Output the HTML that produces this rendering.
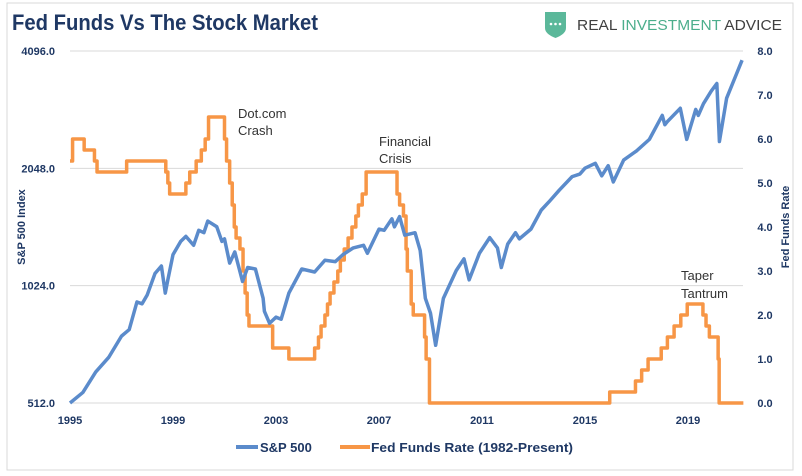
<!DOCTYPE html>
<html><head><meta charset="utf-8"><style>
html,body{margin:0;padding:0;background:#fff;}
svg{display:block;font-family:"Liberation Sans",sans-serif;}
</style></head><body>
<svg id="chart" width="802" height="476" viewBox="0 0 802 476">
<rect x="7" y="3" width="786" height="467" fill="#fff" stroke="#d9d9d9" stroke-width="1"/>
<text x="12" y="30" font-size="22" font-weight="bold" fill="#1F3864" textLength="306" lengthAdjust="spacingAndGlyphs">Fed Funds Vs The Stock Market</text>
<g>
<path d="M545 12 L566 12 L566 28 Q566 34 555.5 38 Q545 34 545 28 Z" fill="#5bb89a"/>
<circle cx="551" cy="24" r="1.3" fill="#fff"/><circle cx="555.5" cy="24" r="1.3" fill="#fff"/><circle cx="560" cy="24" r="1.3" fill="#fff"/>
<text x="577" y="30" font-size="15" textLength="205" lengthAdjust="spacingAndGlyphs"><tspan fill="#404040">REAL </tspan><tspan fill="#4cae8c">INVESTMENT </tspan><tspan fill="#404040">ADVICE</tspan></text>
</g>
<g id="grid"></g><g id="axes"></g><g id="series"></g>
<text x="238" y="118" font-size="13" fill="#333">Dot.com</text>
<text x="238" y="135" font-size="13" fill="#333">Crash</text>
<text x="379" y="146" font-size="13" fill="#333">Financial</text>
<text x="379" y="163" font-size="13" fill="#333">Crisis</text>
<text x="681" y="280" font-size="13" fill="#333">Taper</text>
<text x="681" y="298" font-size="13" fill="#333">Tantrum</text>
<text transform="translate(25,227) rotate(-90)" text-anchor="middle" font-size="11" font-weight="bold" fill="#1F3864">S&amp;P 500 Index</text>
<text transform="translate(789,227) rotate(-90)" text-anchor="middle" font-size="11" font-weight="bold" fill="#1F3864">Fed Funds Rate</text>
<g>
<line x1="236" y1="447" x2="258" y2="447" stroke="#5B8BCB" stroke-width="4"/>
<text x="260" y="452" font-size="13" font-weight="bold" fill="#1F3864">S&amp;P 500</text>
<line x1="340" y1="447" x2="370" y2="447" stroke="#F79646" stroke-width="4"/>
<text x="371" y="452" font-size="13" font-weight="bold" fill="#1F3864" textLength="202" lengthAdjust="spacingAndGlyphs">Fed Funds Rate (1982-Present)</text>
</g>
</svg>
<script>
const leftTicks=[512,1024,2048,4096];
const leftTickLabels=["512.0","1024.0","2048.0","4096.0"];
const rightTicks=[0,1,2,3,4,5,6,7,8];
const xTickYears=[1995,1999,2003,2007,2011,2015,2019];
const spDates=[1995.0,1995.5,1996.0,1996.5,1997.0,1997.3,1997.6,1997.8,1998.0,1998.3,1998.55,1998.7,1998.8,1999.0,1999.3,1999.5,1999.8,2000.0,2000.2,2000.35,2000.7,2000.9,2001.0,2001.2,2001.4,2001.7,2001.9,2002.2,2002.5,2002.55,2002.75,2003.0,2003.2,2003.5,2004.0,2004.5,2004.9,2005.3,2005.6,2006.0,2006.4,2006.55,2007.0,2007.2,2007.5,2007.6,2007.8,2008.0,2008.4,2008.6,2008.8,2009.0,2009.2,2009.5,2010.0,2010.3,2010.5,2010.9,2011.3,2011.6,2011.75,2012.0,2012.3,2012.45,2012.9,2013.3,2013.6,2014.0,2014.5,2014.8,2015.0,2015.4,2015.65,2015.9,2016.1,2016.5,2017.0,2017.5,2018.0,2018.1,2018.2,2018.7,2018.95,2019.3,2019.4,2019.6,2019.9,2020.12,2020.22,2020.5,2020.9,2021.1];
const spValues=[470,545,615,670,760,790,930,920,970,1100,1150,980,1060,1230,1330,1370,1300,1420,1400,1500,1450,1330,1350,1170,1250,1050,1140,1130,950,880,820,850,840,980,1130,1110,1190,1180,1230,1280,1300,1240,1430,1420,1520,1450,1540,1380,1400,1260,950,870,720,950,1120,1200,1060,1240,1360,1280,1140,1310,1400,1350,1430,1600,1680,1800,1950,1980,2050,2110,1960,2080,1890,2150,2270,2430,2800,2650,2700,2920,2430,2900,2800,3000,3230,3380,2400,3100,3600,3880];
const ffDates=[1995.0,1995.1,1995.55,1995.95,1996.05,1997.2,1998.72,1998.8,1998.87,1999.5,1999.65,1999.9,2000.1,2000.25,2000.38,2001.0,2001.08,2001.2,2001.3,2001.38,2001.45,2001.6,2001.72,2001.8,2001.88,2001.95,2002.87,2003.5,2004.5,2004.65,2004.75,2004.9,2005.0,2005.1,2005.25,2005.4,2005.5,2005.65,2005.8,2005.95,2006.1,2006.2,2006.35,2006.5,2007.7,2007.8,2007.95,2008.05,2008.1,2008.25,2008.33,2008.77,2008.83,2008.96,2015.96,2016.96,2017.2,2017.45,2017.96,2018.2,2018.46,2018.72,2018.97,2019.58,2019.7,2019.83,2020.17,2020.21,2021.15];
const ffValues=[5.5,6.0,5.75,5.5,5.25,5.5,5.25,5.0,4.75,5.0,5.25,5.5,5.75,6.0,6.5,6.0,5.5,5.0,4.5,4.0,3.75,3.5,3.0,2.5,2.0,1.75,1.25,1.0,1.25,1.5,1.75,2.0,2.25,2.5,2.75,3.0,3.25,3.5,3.75,4.0,4.25,4.5,4.75,5.25,4.75,4.5,4.25,3.5,3.0,2.25,2.0,1.5,1.0,0.0,0.25,0.5,0.75,1.0,1.25,1.5,1.75,2.0,2.25,2.0,1.75,1.5,1.0,0.0,0.0];
const X0=70,PX_YEAR=25.75,YTOP=51,YBOT=403;
function xScale(t){return X0+(t-1995)*PX_YEAR;}
function yLeft(v){return YBOT-(Math.log2(v)-9)/3*(YBOT-YTOP);}
function yRight(v){return YBOT-v/8*(YBOT-YTOP);}
const NS="http://www.w3.org/2000/svg";
function mk(tag,attrs,parent){const e=document.createElementNS(NS,tag);for(const k in attrs)e.setAttribute(k,attrs[k]);parent.appendChild(e);return e;}
const grid=document.getElementById('grid'),axes=document.getElementById('axes'),series=document.getElementById('series');
leftTicks.forEach((v,i)=>{
 const y=yLeft(v);
 const g=mk('line',{x1:70,x2:743,y1:y,y2:y,stroke:'#d9d9d9','stroke-width':1},grid);
 
 
 const t=mk('text',{x:55,y:y+4,'text-anchor':'end','font-size':11,'font-weight':'bold',fill:'#1F3864'},axes);
 t.textContent=leftTickLabels[i];
 
 
});
rightTicks.forEach(v=>{
 const t=mk('text',{x:765,y:yRight(v)+4,'text-anchor':'middle','font-size':11,'font-weight':'bold',fill:'#1F3864'},axes);
 t.textContent=v.toFixed(1);
 
 
});
xTickYears.forEach(yr=>{
 const t=mk('text',{x:xScale(yr),y:424,'text-anchor':'middle','font-size':11,'font-weight':'bold',fill:'#1F3864'},axes);
 t.textContent=String(yr);
 
 
});
let ffPts=[];
for(let i=0;i<ffDates.length;i++){
 if(i>0)ffPts.push(xScale(ffDates[i])+','+yRight(ffValues[i-1]));
 ffPts.push(xScale(ffDates[i])+','+yRight(ffValues[i]));
}
const ff=mk('polyline',{points:ffPts.join(' '),fill:'none',stroke:'#F79646','stroke-width':3.5,'stroke-linejoin':'round'},series);


const spPts=spDates.map((d,i)=>xScale(d)+','+Math.min(YBOT,yLeft(spValues[i])));
const sp=mk('polyline',{points:spPts.join(' '),fill:'none',stroke:'#5B8BCB','stroke-width':3.5,'stroke-linejoin':'round'},series);


</script>
</body></html>
